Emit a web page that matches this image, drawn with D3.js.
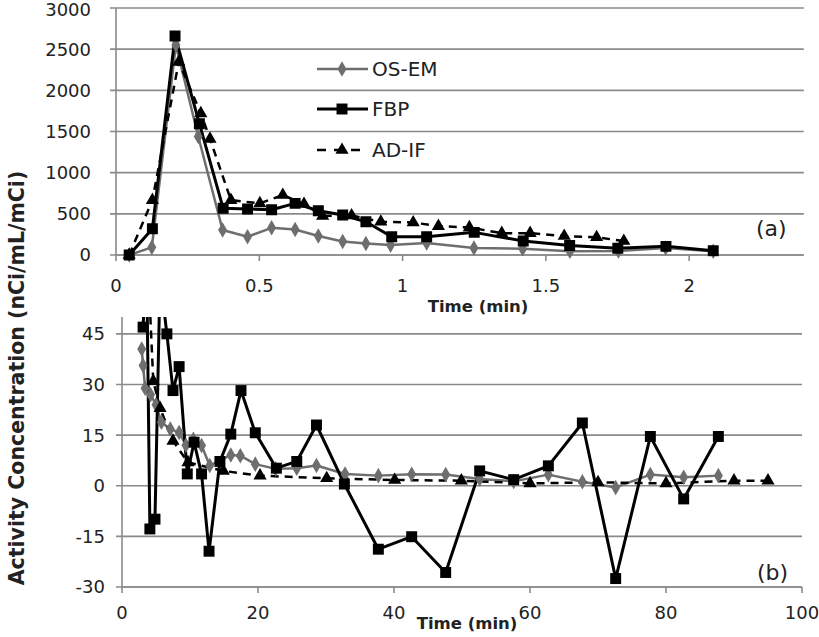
<!DOCTYPE html>
<html><head><meta charset="utf-8">
<script src="https://cdn.jsdelivr.net/npm/d3@7"></script>
<style>
body{margin:0;background:#fff;}
svg{display:block;font-family:"DejaVu Sans",sans-serif;}
</style></head>
<body><svg id="c" width="819" height="637"></svg>
<script>
// ---------- DATA ----------
const seriesNames = ["OS-EM", "FBP", "AD-IF"];

// Panel (a): early time (min)
const osemA_t = [0.046,0.125,0.209,0.287,0.372,0.459,0.543,0.625,0.706,0.791,0.872,0.958,1.084,1.249,1.419,1.584,1.753,1.918,2.084];
const osemA_v = [0,93,2550,1440,303,222,330,310,230,165,140,120,145,85,75,45,50,85,45];
const fbpA_t  = [0.046,0.127,0.206,0.291,0.374,0.459,0.543,0.625,0.706,0.791,0.872,0.962,1.084,1.250,1.421,1.583,1.751,1.919,2.084];
const fbpA_v  = [0,320,2660,1595,567,558,550,627,537,485,404,222,222,275,170,115,81,105,52];
const adifA_t = [0.046,0.127,0.219,0.296,0.328,0.401,0.502,0.582,0.656,0.721,0.822,0.924,1.037,1.125,1.233,1.346,1.445,1.564,1.677,1.772];
const adifA_v = [0,667,2346,1720,1410,667,627,728,619,473,480,404,395,350,335,265,265,230,215,170];

// Panel (b): full time (min)
const osemB_t = [2.9,3.1,3.4,4.2,5.0,5.8,7.1,8.4,9.4,10.5,11.7,12.9,16.0,17.4,19.6,22.6,25.7,28.6,32.8,37.7,42.6,47.6,52.6,57.6,62.7,67.7,72.6,77.7,82.6,87.7];
const osemB_v = [40.5,35.6,28.9,27,24,18.8,16.8,15.8,12,13.8,11.9,6,9.1,8.9,6.4,5.0,5.2,6.0,3.5,3.0,3.4,3.3,2.0,1.3,3.3,1.2,-0.5,3.3,2.5,3.0];
const fbpB_t  = [3.1,3.6,4.1,4.85,5.6,6.6,7.5,8.4,9.6,10.6,11.7,12.8,14.4,16.0,17.5,19.6,22.7,25.7,28.6,32.7,37.7,42.6,47.6,52.6,57.6,62.7,67.7,72.6,77.7,82.6,87.7];
const fbpB_v  = [47,70,-12.8,-9.9,62,45,28.2,35.3,3.5,12.9,3.5,-19.4,7.2,15.3,28.2,15.7,5.2,7.2,18,0.5,-18.8,-15.1,-25.7,4.4,1.8,5.9,18.6,-27.5,14.6,-3.9,14.6];
const adifB_t = [3.6,4.6,5.6,7.5,9.7,14.9,20.3,30.1,40.1,49.9,60,70,80,90,95];
const adifB_v = [75,31,23,13.3,6.9,4.4,3.0,2.2,1.7,1.5,0.7,1.0,0.7,1.5,1.5];

const yTicksA = [0,500,1000,1500,2000,2500,3000];
const xTicksA = [0,0.5,1,1.5,2];
const yTicksB = [-30,-15,0,15,30,45];
const xTicksB = [0,20,40,60,80,100];

const yTitle = "Activity Concentration (nCi/mL/mCi)";
const xTitle = "Time (min)";

// ---------- DRAW ----------
const svg = d3.select("#c");
const zip = (t,v) => t.map((d,i)=>({x:d,y:v[i]}));

const styles = {
  "OS-EM": {stroke:"#6e6e6e", width:2.5, dash:null, marker:"diamond", fill:"#6e6e6e", size:70},
  "FBP":   {stroke:"#000", width:3, dash:null, marker:"square", fill:"#000", size:120},
  "AD-IF": {stroke:"#000", width:2.5, dash:"8,6", marker:"triangle", fill:"#000", size:75}
};
const symType = {diamond:d3.symbolDiamond, square:d3.symbolSquare, triangle:d3.symbolTriangle};

function panel(cfg){
  const x = d3.scaleLinear().domain(cfg.xd).range(cfg.xr);
  const y = d3.scaleLinear().domain(cfg.yd).range(cfg.yr);
  const g = svg.append("g");
  const id = "clip"+cfg.name;
  svg.append("clipPath").attr("id",id).append("rect")
    .attr("x",cfg.xr[0]-8).attr("y",cfg.yr[1]).attr("width",cfg.xr[1]-cfg.xr[0]+16).attr("height",cfg.yr[0]-cfg.yr[1]+10);
  // gridlines
  g.selectAll(".grid").data(cfg.yt).enter().append("line")
    .attr("x1",cfg.xr[0]-6).attr("x2",cfg.xr[1]).attr("y1",d=>y(d)).attr("y2",d=>y(d))
    .attr("stroke","#8a8a8a").attr("stroke-width",1.6);
  // y axis line
  g.append("line").attr("x1",cfg.xr[0]).attr("x2",cfg.xr[0]).attr("y1",cfg.yr[0]).attr("y2",cfg.yr[1])
    .attr("stroke","#8a8a8a").attr("stroke-width",1.6);
  // x axis line + ticks
  const xa = y(cfg.xaxisAt);
  g.append("line").attr("x1",cfg.xr[0]).attr("x2",cfg.xr[1]).attr("y1",xa).attr("y2",xa)
    .attr("stroke","#8a8a8a").attr("stroke-width",1.6);
  g.selectAll(".xt").data(cfg.xt).enter().append("line")
    .attr("x1",d=>x(d)).attr("x2",d=>x(d)).attr("y1",xa).attr("y2",xa+6)
    .attr("stroke","#8a8a8a").attr("stroke-width",1.6);
  // tick labels
  g.selectAll(".yl").data(cfg.yt).enter().append("text")
    .attr("x",cfg.xr[0]-cfg.ylOff).attr("y",d=>Math.max(y(d),10)).attr("dy","0.36em")
    .attr("text-anchor","end").attr("font-size",18).attr("fill","#222").text(d=>d);
  g.selectAll(".xl").data(cfg.xt).enter().append("text")
    .attr("x",d=>x(d)).attr("y",cfg.xlY).attr("dy","0.36em")
    .attr("text-anchor","middle").attr("font-size",18).attr("fill","#222").text(d=>d);
  // series
  const dg = svg.append("g").attr("clip-path",`url(#${id})`);
  cfg.series.forEach(s=>{
    const st = styles[s.name];
    const line = d3.line().x(d=>x(d.x)).y(d=>y(d.y));
    dg.append("path").datum(s.data).attr("d",line).attr("fill","none")
      .attr("stroke",st.stroke).attr("stroke-width",st.width)
      .attr("stroke-dasharray",st.dash).attr("stroke-linejoin","round");
  });
  cfg.series.forEach(s=>{
    const st = styles[s.name];
    dg.selectAll(null).data(s.data.filter(d=>d.y<=cfg.yd[1])).enter().append("path")
      .attr("d",d3.symbol().type(symType[st.marker]).size(st.size))
      .attr("transform",d=>`translate(${x(d.x)},${y(d.y)})`)
      .attr("fill",st.fill);
  });
  // panel label
  svg.append("text").attr("x",cfg.lab[0]).attr("y",cfg.lab[1]).attr("font-size",22)
    .attr("fill","#222").text(cfg.label);
  // x title
  svg.append("text").attr("x",cfg.xtitle[0]).attr("y",cfg.xtitle[1]).attr("text-anchor","middle")
    .attr("font-size",16.5).attr("font-weight","bold").attr("fill","#222").text(xTitle);
  return {x,y};
}

panel({name:"a", xd:[0,2.4], xr:[116,803.8], yd:[0,3000], yr:[255,8], yt:yTicksA, xt:xTicksA,
  xaxisAt:0, ylOff:25, xlY:286, label:"(a)", lab:[756,236], xtitle:[478,312],
  series:[{name:"OS-EM",data:zip(osemA_t,osemA_v)},{name:"FBP",data:zip(fbpA_t,fbpA_v)},{name:"AD-IF",data:zip(adifA_t,adifA_v)}]});

panel({name:"b", xd:[0,100], xr:[122,802], yd:[-30,50], yr:[587,317], yt:yTicksB, xt:xTicksB,
  xaxisAt:-30, ylOff:17, xlY:613, label:"(b)", lab:[757,580], xtitle:[467,629],
  series:[{name:"OS-EM",data:zip(osemB_t,osemB_v)},{name:"FBP",data:zip(fbpB_t,fbpB_v)},{name:"AD-IF",data:zip(adifB_t,adifB_v)}]});

// legend
const lg = svg.append("g");
const legY = [69,109,150];
seriesNames.forEach((n,i)=>{
  const st = styles[n];
  lg.append("line").attr("x1",317).attr("x2",368).attr("y1",legY[i]).attr("y2",legY[i])
    .attr("stroke",st.stroke).attr("stroke-width",st.width).attr("stroke-dasharray",st.dash ? "9,8" : null);
  lg.append("path").attr("d",d3.symbol().type(symType[st.marker]).size(st.size))
    .attr("transform",`translate(342,${legY[i]})`).attr("fill",st.fill);
  lg.append("text").attr("x",372).attr("y",legY[i]).attr("dy","0.36em")
    .attr("font-size",20).attr("fill","#222").text(n);
});

// y title
svg.append("text").attr("transform","translate(24,378) rotate(-90)")
  .attr("text-anchor","middle").attr("font-size",20.5).attr("font-weight","bold")
  .attr("fill","#222").text(yTitle);
</script></body></html>
